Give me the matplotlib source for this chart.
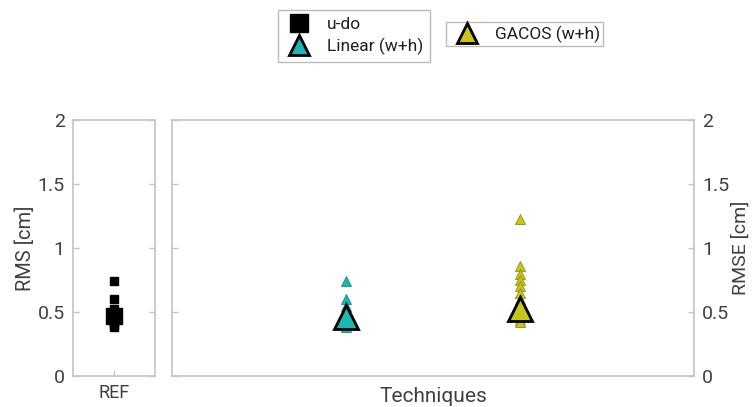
import matplotlib
matplotlib.use("Agg")
import matplotlib.pyplot as plt
from matplotlib.lines import Line2D

plt.rcParams['font.family'] = ['Roboto', 'DejaVu Sans']

# Data
ref_label = "REF"
udo_values = [0.74, 0.60, 0.52, 0.50, 0.49, 0.48, 0.47, 0.46, 0.45, 0.44, 0.43, 0.42, 0.40, 0.38]
udo_mean = 0.47
linear_values = [0.74, 0.60, 0.55, 0.50, 0.48, 0.46, 0.44, 0.42, 0.40, 0.38]
linear_mean = 0.46
gacos_values = [1.23, 0.86, 0.80, 0.75, 0.70, 0.65, 0.60, 0.56, 0.53, 0.50, 0.48, 0.46, 0.44, 0.42]
gacos_mean = 0.52
yticks = [0, 0.5, 1, 1.5, 2]
ytick_labels = ["0", "0.5", "1", "1.5", "2"]

c_lin = "#1fb5b0"
c_gac = "#c8c41e"
axis_col = "#c4c4c4"
text_col = "#404040"

fig = plt.figure(figsize=(7.53, 4.07), dpi=100)
ax1 = fig.add_axes([73/753, 31/407, 82/753, 256/407])
ax2 = fig.add_axes([172/753, 31/407, 522/753, 256/407])

for ax in (ax1, ax2):
    ax.set_ylim(0, 2)
    ax.set_yticks(yticks)
    for s in ax.spines.values():
        s.set_color(axis_col)
        s.set_linewidth(1.2)
    ax.tick_params(axis='both', colors=axis_col, labelcolor=text_col, labelsize=14,
                   direction='in', length=4, width=1)

# left axes
ax1.set_xlim(0, 2)
ax1.plot([1]*len(udo_values), udo_values, 's', color='black', ms=5.5, mec='black')
ax1.plot([1], [udo_mean], 's', color='black', ms=12, mec='black')
ax1.set_xticks([1])
ax1.set_xticklabels([ref_label], fontsize=13)
ax1.tick_params(axis='x', length=4, pad=6)
ax1.set_yticklabels(ytick_labels)
ax1.tick_params(axis='y', right=True, pad=6)
ax1.set_ylabel("RMS [cm]", fontsize=14.5, color=text_col, labelpad=2)

# right axes
ax2.set_xlim(0, 3)
ax2.plot([1]*len(linear_values), linear_values, '^', color=c_lin, ms=6.5, mec='#168884', mew=0.6, zorder=2)
ax2.plot([1], [linear_mean], '^', color=c_lin, ms=17, mec='black', mew=2, zorder=3)
ax2.plot([2]*len(gacos_values), gacos_values, '^', color=c_gac, ms=6.5, mec='#8f8c10', mew=0.6, zorder=2)
ax2.plot([2], [gacos_mean], '^', color=c_gac, ms=17, mec='black', mew=2, zorder=3)
ax2.set_xticks([])
ax2.yaxis.tick_right()
ax2.tick_params(axis='y', left=True, right=True, labelleft=False, labelright=True, pad=6)
ax2.set_yticklabels(ytick_labels)
ax2.yaxis.set_label_position('right')
ax2.set_ylabel("RMSE [cm]", fontsize=14, color=text_col, labelpad=1)
ax2.set_xlabel("Techniques", fontsize=15, color=text_col, labelpad=8)

# legends
h_udo = Line2D([], [], marker='s', ls='', color='black', ms=13)
h_lin = Line2D([], [], marker='^', ls='', color=c_lin, mec='black', mew=2, ms=14)
h_gac = Line2D([], [], marker='^', ls='', color=c_gac, mec='black', mew=2, ms=14)
leg1 = fig.legend([h_udo, h_lin], ["u-do", "Linear (w+h)"], loc='upper left',
                  bbox_to_anchor=(278/753, 1 - 10/407), fontsize=12.5, frameon=True,
                  fancybox=False, edgecolor='#aaaaaa', handletextpad=0.8,
                  borderpad=0.4, labelspacing=0.3, handlelength=1.6, borderaxespad=0)
leg1.get_frame().set_linewidth(1)
leg2 = fig.legend([h_gac], ["GACOS (w+h)"], loc='upper left',
                  bbox_to_anchor=(446/753, 1 - 22/407), fontsize=12.5, frameon=True,
                  fancybox=False, edgecolor='#aaaaaa', handletextpad=0.6,
                  borderpad=0.2, handlelength=2.0, borderaxespad=0)
leg2.get_frame().set_linewidth(1)
for leg in (leg1, leg2):
    for t in leg.get_texts():
        t.set_color('#202020')

fig.savefig("out.png", dpi=100)
